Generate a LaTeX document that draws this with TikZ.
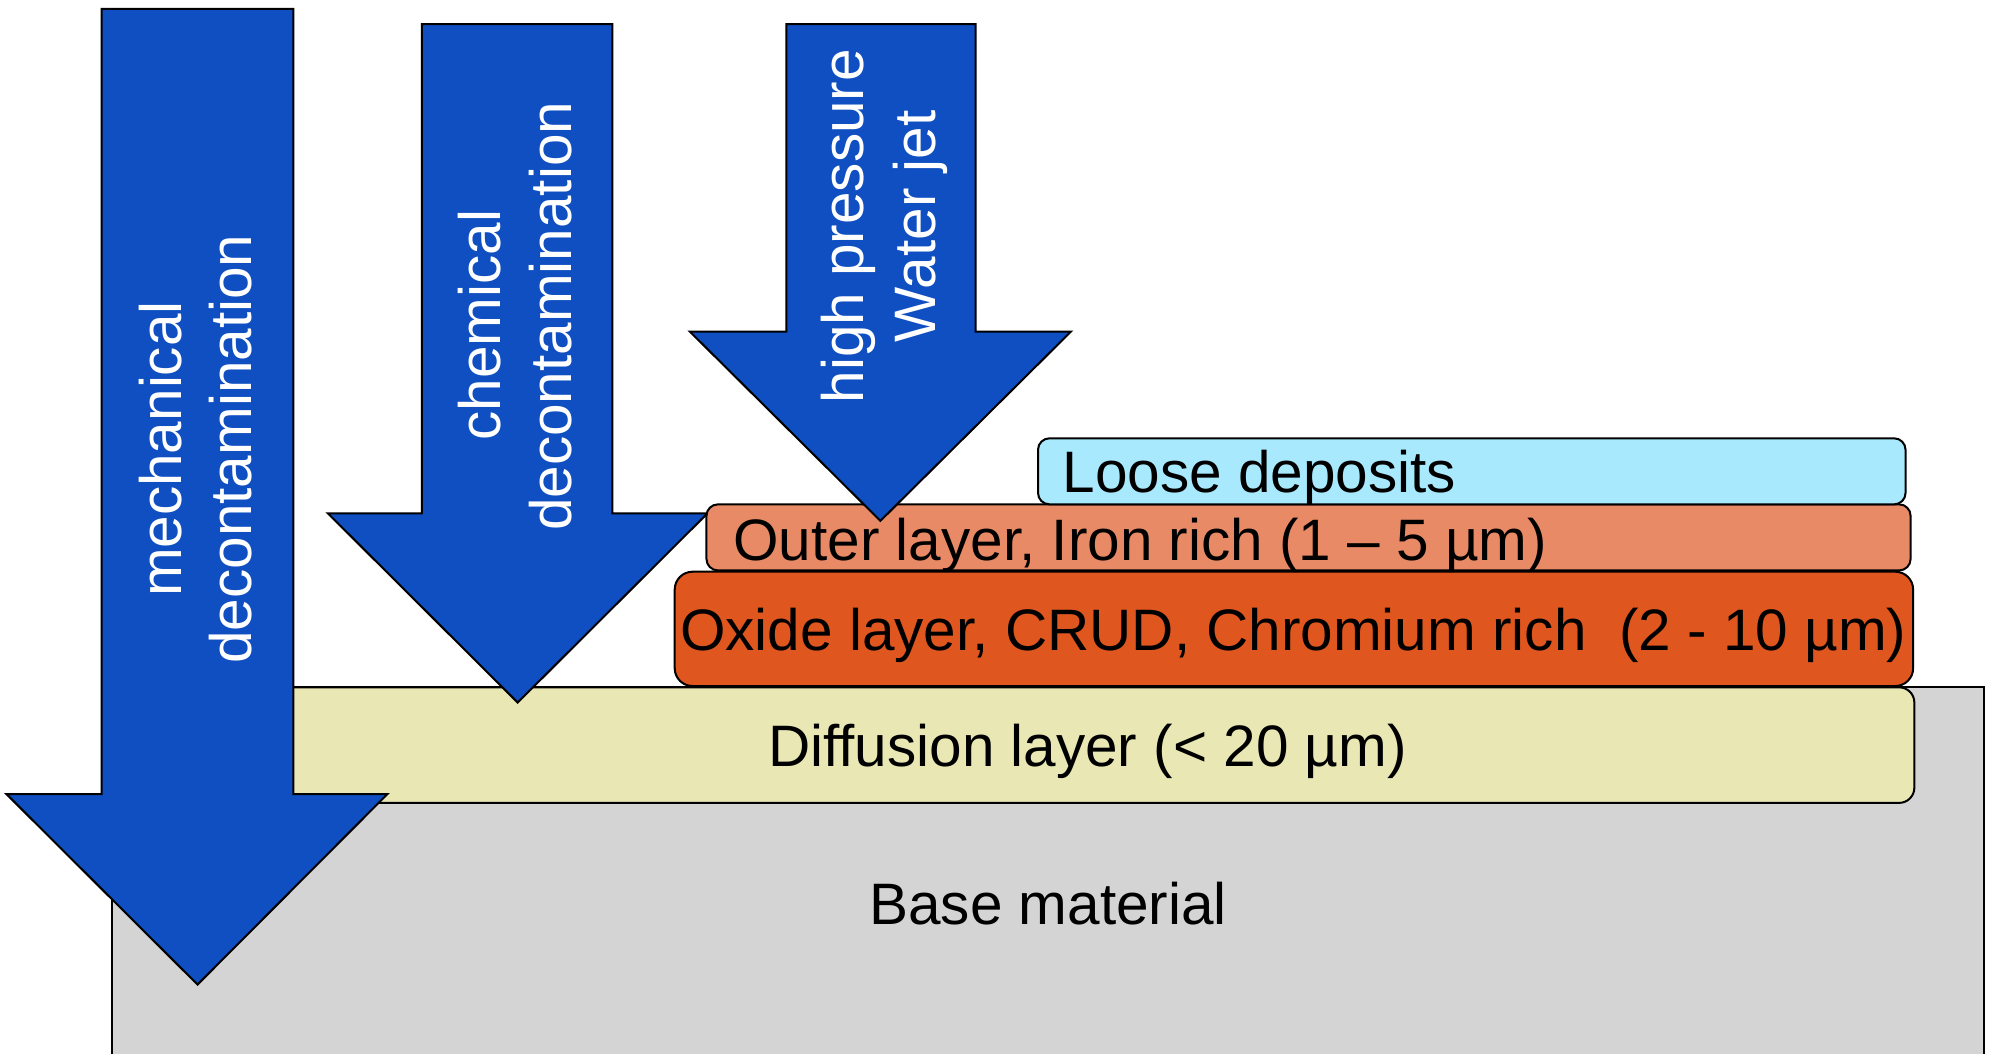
\documentclass[tikz,border=0pt]{standalone}
\usepackage{fontspec}
\setmainfont{Liberation Sans}
\definecolor{arrowblue}{HTML}{0F4FC1}
\definecolor{loosec}{HTML}{A9E9FD}
\definecolor{outerc}{HTML}{E98A66}
\definecolor{oxidec}{HTML}{DF561F}
\definecolor{diffc}{HTML}{E9E8B5}
\definecolor{basegray}{HTML}{D4D4D4}
\begin{document}
\begin{tikzpicture}[x=0.02cm,y=-0.02cm,
  layerbox/.style={draw=black, line width=0.9pt, inner sep=0pt, outer sep=0pt},
  bigarrow/.style={draw=black, line width=0.9pt, fill=arrowblue, line join=miter},
  lbl/.style={inner sep=0pt, font=\fontsize{26.2pt}{31pt}\selectfont},
  arrowlbl/.style={lbl, text=white, rotate=90, anchor=base}]
\useasboundingbox (0,0) rectangle (1568,829);
\clip (0,0) rectangle (1568,829);
% base material
\draw[fill=basegray, line width=0.9pt] (88,541) rectangle (1562,900);
\node[lbl, anchor=base] (baseText) at (825,728) {Base material};
% diffusion layer
\node[layerbox, fill=diffc, rounded corners=0.24cm, minimum width=26.04cm, minimum height=1.82cm] (diffBox) at (856,586.5) {};
\node[lbl, anchor=base] (diffText) at (856,603) {Diffusion layer (< 20 µm)};
% oxide layer
\node[layerbox, fill=oxidec, rounded corners=0.28cm, minimum width=19.5cm, minimum height=1.8cm] (oxBox) at (1018.5,495) {};
\node[lbl, anchor=base] (oxText) at (1018,512) {Oxide layer, CRUD, Chromium rich~ (2 - 10 µm)};
% chemical decontamination arrow
\draw[bigarrow] (332,19) -- (482,19) -- (482,404) -- (557,404) -- (407.5,553) -- (258,404) -- (332,404) -- cycle;
\node[arrowlbl] (chem1) at (394,256) {chemical};
\node[arrowlbl] (chem2) at (450,249) {decontamination};
% outer layer
\node[layerbox, fill=outerc, rounded corners=0.18cm, minimum width=18.96cm, minimum height=1.04cm] (outerBox) at (1030,423) {};
\node[lbl, anchor=base west] (outerText) at (577,441) {Outer layer, Iron rich (1 – 5 µm)};
% loose deposits
\node[layerbox, fill=loosec, rounded corners=0.18cm, minimum width=13.66cm, minimum height=1.04cm] (looseBox) at (1158.5,371) {};
\node[lbl, anchor=base west] (looseText) at (836,388) {Loose deposits};
% high pressure water jet arrow
\draw[bigarrow] (619,19) -- (768,19) -- (768,261) -- (843,261) -- (693,410) -- (543,261) -- (619,261) -- cycle;
\node[arrowlbl] (water1) at (680,178) {high pressure};
\node[arrowlbl] (water2) at (736,178) {Water jet};
% mechanical decontamination arrow
\draw[bigarrow] (80,7) -- (231,7) -- (231,625) -- (305,625) -- (155.5,775) -- (5,625) -- (80,625) -- cycle;
\node[arrowlbl] (mech1) at (143,353.5) {mechanical};
\node[arrowlbl] (mech2) at (198,353.5) {decontamination};
\end{tikzpicture}
\end{document}
